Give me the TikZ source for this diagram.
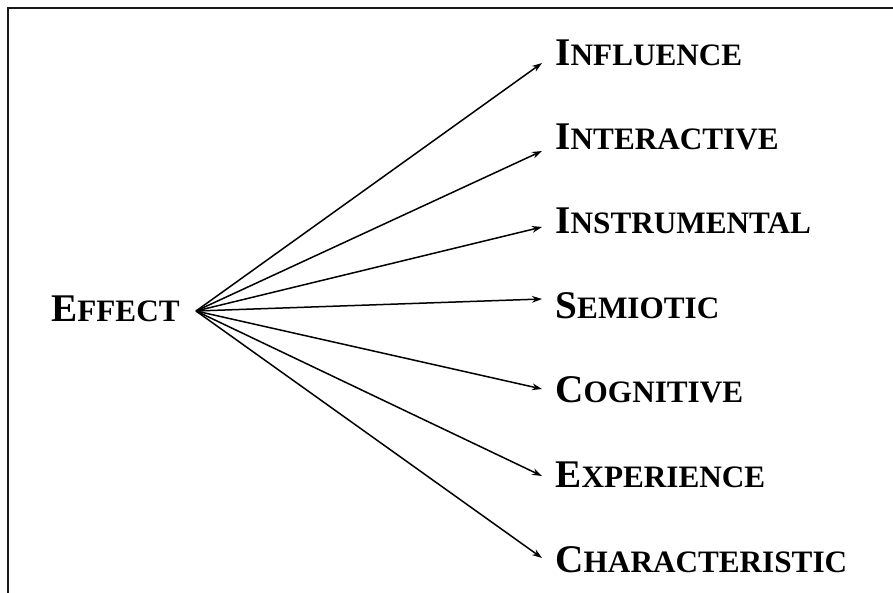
\documentclass[tikz,border=0pt]{standalone}
\usepackage{fontspec}
\setmainfont{Liberation Serif}
\usetikzlibrary{arrows.meta}
\newcommand{\capword}[2]{{\fontsize{19.6}{22}\selectfont #1}{\fontsize{15.6}{18}\selectfont #2}}
\begin{document}
\begin{tikzpicture}[x=0.5pt,y=-0.5pt,
  term/.style={anchor=base west,inner sep=0pt,font=\bfseries},
  link/.style={-{Stealth[length=5pt,width=3.4pt]},line width=0.75pt}]
\useasboundingbox (0,0) rectangle (893,593);
\draw[line width=1.3pt, color=black!90] (8,593) -- (8,8) -- (893,8);

\node[term,anchor=base east] (effect) at (180,321) {\capword{E}{FFECT}};
\coordinate (hub) at (196,311);

\node[term] (influence) at (555,66) {\capword{I}{NFLUENCE}};
\node[term] (interactive) at (555,150) {\capword{I}{NTERACTIVE}};
\node[term] (instrumental) at (555,234) {\capword{I}{NSTRUMENTAL}};
\node[term] (semiotic) at (555,318) {\capword{S}{EMIOTIC}};
\node[term] (cognitive) at (555,402) {\capword{C}{OGNITIVE}};
\node[term] (experience) at (555,487) {\capword{E}{XPERIENCE}};
\node[term] (characteristic) at (555,572) {\capword{C}{HARACTERISTIC}};

\coordinate (t1) at (542,63);
\coordinate (t2) at (542,151);
\coordinate (t3) at (542,227);
\coordinate (t4) at (542,299);
\coordinate (t5) at (542,389);
\coordinate (t6) at (542,476);
\coordinate (t7) at (542,558);

\draw[link] (hub) -- (t1);
\draw[link] (hub) -- (t2);
\draw[link] (hub) -- (t3);
\draw[link] (hub) -- (t4);
\draw[link] (hub) -- (t5);
\draw[link] (hub) -- (t6);
\draw[link] (hub) -- (t7);
\end{tikzpicture}
\end{document}
